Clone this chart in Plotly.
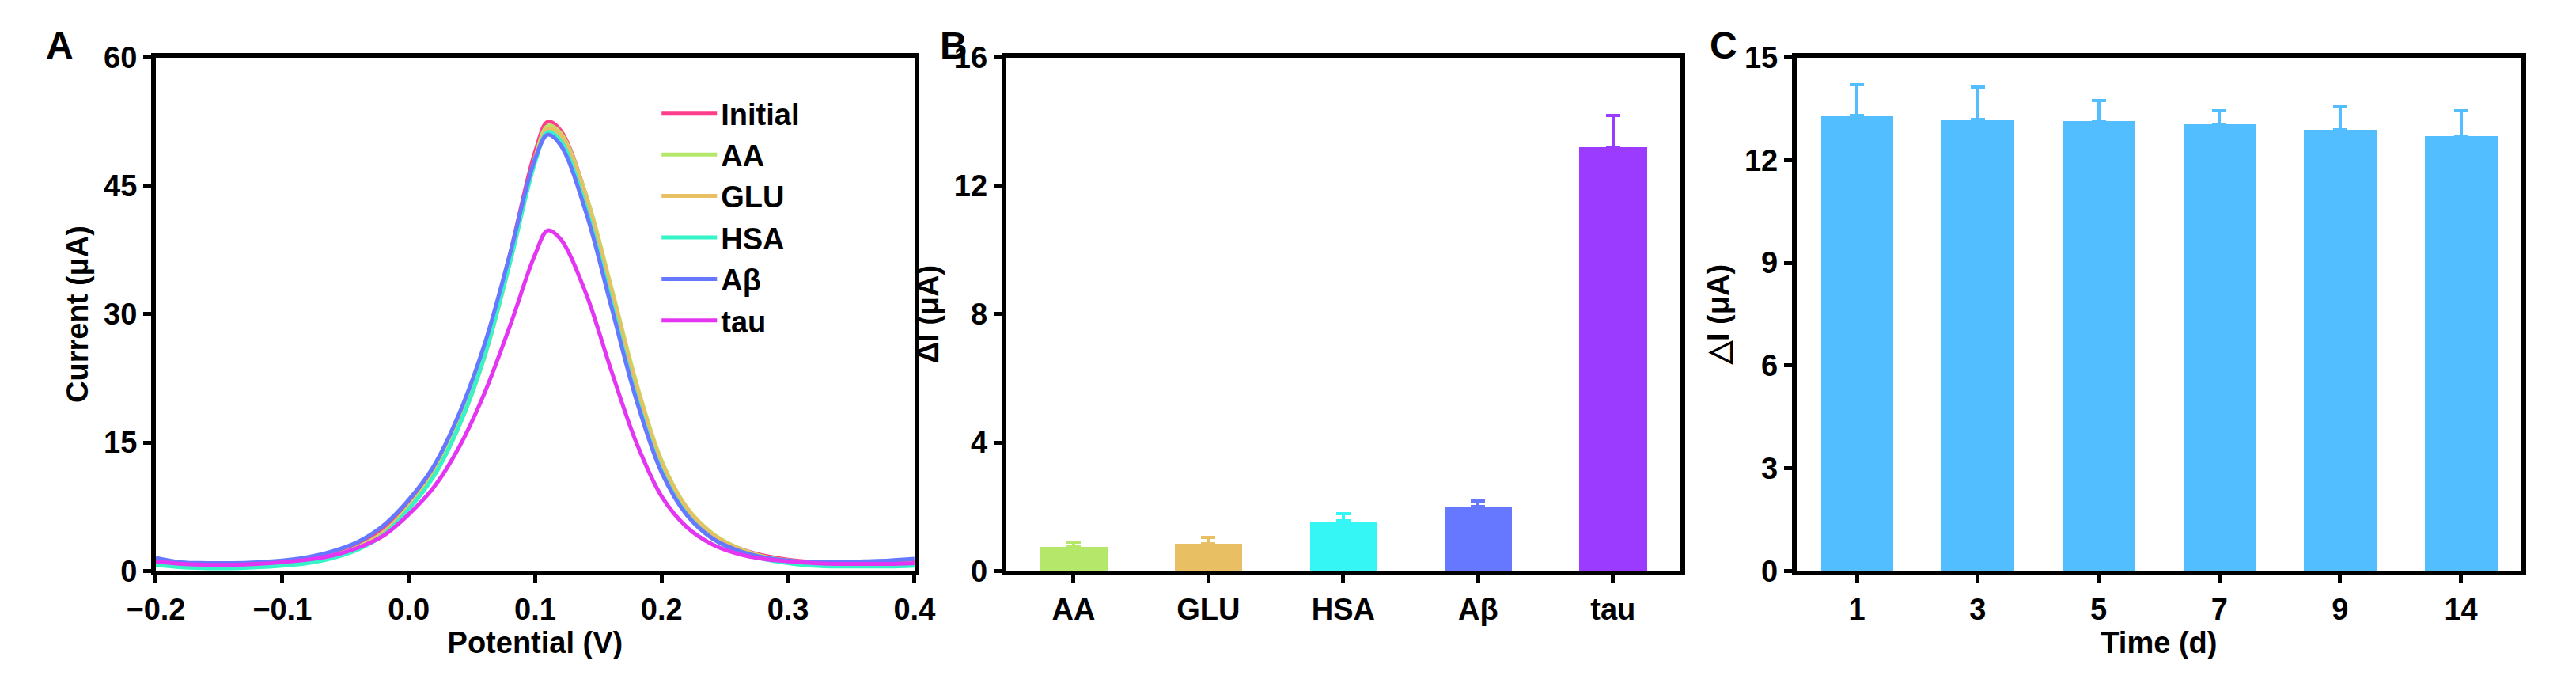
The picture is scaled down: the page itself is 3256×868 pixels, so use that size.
import plotly.graph_objects as go

potential = [-0.2,-0.18,-0.16,-0.14,-0.12,-0.1,-0.08,-0.06,-0.04,-0.02,0.0,0.02,0.04,0.06,0.08,0.10,0.11,0.12,0.14,0.16,0.18,0.20,0.22,0.24,0.26,0.28,0.30,0.32,0.34,0.36,0.38,0.40]
cur_initial = [1.2,0.9,0.8,0.8,0.9,1.1,1.4,2.0,3.0,4.8,8.0,12.0,18.0,26.0,37.0,49.0,52.5,51.5,44.0,33.0,21.5,12.5,7.2,4.3,2.7,1.8,1.3,1.0,0.9,0.9,0.9,1.0]
cur_aa      = [1.0,0.7,0.6,0.6,0.7,0.9,1.2,1.8,2.8,4.5,7.5,11.4,17.3,25.3,36.3,48.3,52.0,51.2,44.0,33.3,22.0,12.9,7.4,4.4,2.7,1.7,1.2,0.9,0.8,0.8,0.8,0.9]
cur_glu     = [0.9,0.6,0.5,0.5,0.6,0.8,1.1,1.7,2.7,4.4,7.3,11.2,17.0,25.0,36.0,48.0,51.7,51.0,43.7,33.0,21.7,12.7,7.3,4.3,2.6,1.6,1.1,0.8,0.7,0.7,0.7,0.8]
cur_hsa     = [0.7,0.4,0.3,0.3,0.4,0.6,0.9,1.5,2.5,4.2,7.2,11.1,17.0,25.1,36.0,47.8,51.3,50.3,42.5,31.5,20.3,11.7,6.6,3.8,2.3,1.4,0.9,0.6,0.5,0.5,0.5,0.6]
cur_abeta   = [1.5,1.0,0.9,0.9,1.0,1.2,1.6,2.3,3.4,5.3,8.3,12.3,18.4,26.5,37.0,48.2,51.0,49.8,42.0,31.0,20.0,11.5,6.5,3.8,2.4,1.6,1.2,1.0,1.0,1.1,1.2,1.4]
cur_tau     = [1.1,0.8,0.7,0.7,0.8,1.0,1.3,1.8,2.7,4.1,6.6,9.8,14.5,20.8,28.6,37.0,39.8,38.8,32.5,23.5,15.0,8.7,5.1,3.1,2.0,1.4,1.1,0.9,0.8,0.8,0.8,0.9]

curve_names = ["Initial","AA","GLU","HSA","Aβ","tau"]
curve_colors = ["#FF3D8B","#B5E86A","#E8BF62","#35F5C8","#6578FF","#E436F2"]

sel_cats = ["AA","GLU","HSA","Aβ","tau"]
sel_vals = [0.75,0.85,1.55,2.0,13.2]
sel_errs = [0.15,0.2,0.22,0.18,1.0]
sel_colors = ["#B5E86A","#E8BF62","#35F5F5","#6578FF","#9B3BFF"]

days = ["1","3","5","7","9","14"]
day_vals = [13.3,13.2,13.15,13.05,12.9,12.7]
day_errs = [0.9,0.95,0.6,0.4,0.65,0.75]

fig = go.Figure()
for name, col, ys in zip(curve_names, curve_colors,
                         [cur_initial,cur_aa,cur_glu,cur_hsa,cur_abeta,cur_tau]):
    fig.add_trace(go.Scatter(x=potential, y=ys, mode="lines", name=name,
                             line=dict(color=col, width=5, shape="spline"),
                             xaxis="x", yaxis="y"))

for cat, v, e, c in zip(sel_cats, sel_vals, sel_errs, sel_colors):
    fig.add_trace(go.Bar(x=[cat], y=[v], marker=dict(color=c, line_width=0),
                         width=0.5, showlegend=False, xaxis="x2", yaxis="y2",
                         error_y=dict(type="data", array=[e], arrayminus=[0],
                                      symmetric=False, thickness=4, width=9, color=c)))
fig.add_trace(go.Bar(x=days, y=day_vals, marker=dict(color="#52BDFF", line_width=0),
                     width=0.6, showlegend=False, xaxis="x3", yaxis="y3",
                     error_y=dict(type="data", array=day_errs, arrayminus=[0]*6,
                                  symmetric=False, thickness=4, width=9, color="#52BDFF")))

font = "Liberation Sans"
tickf = dict(family=font, size=38, color="black", weight="bold")
titf = dict(family=font, size=38, color="black")
ax = dict(showline=True, linewidth=6, linecolor="black", mirror=True,
          ticks="outside", ticklen=10, tickwidth=5, tickcolor="black",
          showgrid=False, zeroline=False, tickfont=tickf)
ydom = [0.162, 0.947]

fig.update_layout(
    width=3256, height=868, margin=dict(l=0, r=0, t=0, b=0),
    paper_bgcolor="white", plot_bgcolor="white", bargap=0, barmode="overlay",
    font=dict(family=font, color="black"),
    xaxis=dict(domain=[0.0473, 0.3477], range=[-0.2, 0.4], dtick=0.1, tickformat=".1f",
               title=dict(text="<b>Potential (V)</b>", font=titf, standoff=8), **ax),
    yaxis=dict(domain=ydom, range=[0, 60], dtick=15,
               title=dict(text="<b>Current (μA)</b>", font=titf, standoff=10), **ax),
    xaxis2=dict(domain=[0.384, 0.651], anchor="y2", **ax),
    yaxis2=dict(domain=ydom, anchor="x2", range=[0, 16], dtick=4,
                title=dict(text="<b>ΔI (μA)</b>", font=titf, standoff=10), **ax),
    xaxis3=dict(domain=[0.697, 0.984], anchor="y3",
                title=dict(text="<b>Time (d)</b>", font=titf, standoff=8), **ax),
    yaxis3=dict(domain=ydom, anchor="x3", range=[0, 15], dtick=3,
                title=dict(text="<b>△I (μA)</b>", font=titf, standoff=10), **ax),
    legend=dict(x=0.246, y=0.9, xanchor="left", yanchor="top",
                font=dict(family=font, size=38, color="black", weight="bold"),
                bgcolor="rgba(0,0,0,0)", itemwidth=70),
)

for txt, xp in [("A", 0.003), ("B", 0.357), ("C", 0.662)]:
    fig.add_annotation(text=txt, x=xp, y=1.0, xref="paper", yref="paper",
                       xanchor="left", yanchor="top", showarrow=False,
                       font=dict(family=font, size=48, color="black", weight="bold"))

fig.write_html("out.html")
